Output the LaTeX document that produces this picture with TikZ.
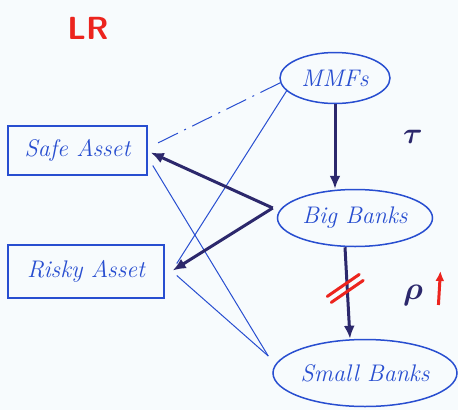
\documentclass[tikz,border=0pt]{standalone}
\usetikzlibrary{shapes.geometric,arrows.meta,calc}
\definecolor{inkblue}{RGB}{40,78,208}
\definecolor{inknavy}{RGB}{44,40,108}
\definecolor{inkred}{RGB}{236,36,30}
\definecolor{board}{RGB}{247,251,253}
\newcommand{\handfont}{\fontsize{24}{28}\selectfont\itshape}
\newcommand{\greekfont}{\fontsize{24.88}{26}\selectfont\boldmath}
\tikzset{>={Latex[length=13pt,width=11pt]}}
\tikzset{
  bank/.style={ellipse,draw=inkblue,line width=1.5pt,text=inkblue,inner sep=0pt,font=\handfont},
  asset/.style={rectangle,draw=inkblue,line width=1.5pt,text=inkblue,inner sep=0pt,font=\handfont},
  flow/.style={->,draw=inknavy,line width=3pt},
  link/.style={draw=inkblue,line width=1pt},
  cut/.style={draw=inkred,line width=3pt,line cap=round},
}

\begin{document}
\begin{tikzpicture}[x=1pt,y=-1pt]
  \fill[board] (0,0) rectangle (458,410);
  \useasboundingbox (0,0) rectangle (458,410);

  \node[text=inkred,font=\fontsize{32}{32}\selectfont\sffamily\bfseries] (lr) at (88,28) {LR};

  % institutions
  \node[bank,minimum width=110,minimum height=51] (mmfs) at (335,78) {MMFs};
  \node[bank,minimum width=155,minimum height=57] (big) at (355,218) {Big Banks};
  \node[bank,minimum width=184,minimum height=67] (small) at (365,373) {Small Banks};

  % assets
  \node[asset,minimum width=139,minimum height=49] (safe) at (77.5,150.5) {Safe Asset};
  \node[asset,minimum width=156,minimum height=53] (risky) at (86,271.5) {Risky Asset};

  % thin links
  \coordinate (sbin) at ($(small.west)+(-4,-17)$);
  \draw[link,dash pattern=on 22pt off 7pt on 2pt off 7pt] (mmfs.185) -- ($(safe.east)+(5,-5)$);
  \draw[link] (mmfs.195) -- ($(risky.east)+(12,-8)$);
  \draw[link] ($(safe.east)+(5,15)$) -- (sbin);
  \draw[link] ($(risky.east)+(12,4)$) -- (sbin);

  % funding flows
  \draw[flow] (mmfs.south) -- (mmfs.south |- big.north);
  \draw[flow] ($(big.west)+(-4,-10)$) -- ($(safe.east)+(3,2)$);
  \draw[flow] ($(big.west)+(-4,-10)$) -- ($(risky.east)+(8,-1)$);
  \draw[flow] ($(big.south)+(-10,0)$) -- coordinate[pos=.45] (cut) ($(small.north)+(-15,0)$);
  \draw[cut] ($(cut)+(-20,8)$) -- ++(32,-22);
  \draw[cut] ($(cut)+(-16,14)$) -- ++(32,-22);

  \node[text=inknavy,font=\greekfont] (tau) at (413,137) {\scalebox{1.2}{$\tau$}};
  \node[text=inknavy,font=\greekfont] (rho) at (413,295) {\scalebox{1.3}{$\rho$}};
  \draw[->,inkred,line width=3pt,>={Latex[length=10pt,width=9pt]}] ($(rho.east)+(12,10)$) -- ++(2,-34);
\end{tikzpicture}
\end{document}
